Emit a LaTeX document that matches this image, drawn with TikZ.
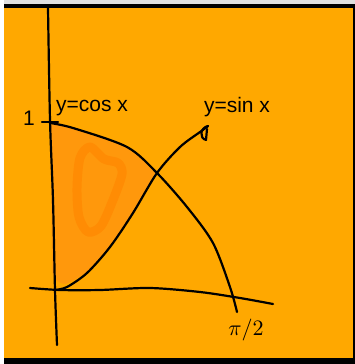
\documentclass[tikz,border=0pt]{standalone}
\usepackage{fontspec}
\setsansfont{Liberation Sans}
\definecolor{sheet}{RGB}{255,168,0}
\definecolor{regionfill}{RGB}{255,152,12}
\definecolor{blobfill}{RGB}{255,140,4}
\begin{document}
\begin{tikzpicture}[x=1pt,y=-1pt,
  pen/.style={line width=2.2pt,line cap=round,line join=round},
  lbl/.style={font=\sffamily\fontsize{21}{21}\selectfont,inner sep=0pt}]
\useasboundingbox (0,0) rectangle (355,364);
% frame and sheet
\fill[white] (0,0) rectangle (355,364);
\fill[black!12] (4,0) rectangle (355,4);
\fill[black] (4,4) rectangle (355,8);
\fill[sheet] (4,8) rectangle (353,358);
\fill[black] (353,8) rectangle (355,364);
\fill[black] (4,358) rectangle (355,364);
% points on the curves
\coordinate (top) at (50,123);
\coordinate (meet) at (157,173);
\coordinate (orig) at (55,290);
\coordinate (cosend) at (237,312);
\coordinate (sinend) at (208,126);
% shaded region
\fill[regionfill] plot[smooth] coordinates {(top) (73,128) (127,147) (meet)}
  -- plot[smooth] coordinates {(meet) (133,213) (110,247) (87,272) (66,284)}
  to[out=180,in=-90] (52,270) -- cycle;
\draw[blobfill,line width=9pt,line join=round] plot[smooth cycle] coordinates
  {(90,147) (80,158) (77,188) (79,217) (88,232) (101,226) (113,200) (122,174) (118,163) (104,159)};
% axes
\draw[pen] plot[smooth] coordinates {(48,8) (50,120) (53,200) (55,290) (57,345)};
\draw[pen] plot[smooth] coordinates {(30,288) (60,290) (100,290) (150,288) (200,292) (240,298) (273,304)};
\draw[pen] (42,122) -- (58,122);
% curves
\draw[pen] plot[smooth] coordinates {(top) (73,128) (127,147) (meet) (187,207) (213,243) (230,287) (cosend)};
\draw[pen] plot[smooth] coordinates {(orig) (67,287) (87,273) (110,247) (133,213) (meet) (180,147) (200,132) (sinend)};
\draw[pen] (sinend) .. controls (200,128) and (199,138) .. (206,140) -- (207,129);
% labels
\node[lbl] (one) at (29,118) {1};
\node[lbl] (coslbl) at (92,108) {y=cos x};
\node[lbl] (sinlbl) at (237,107) {y=sin x};
\node[inner sep=0pt,scale=2.2] (half) at (246,330) {$\pi/2$};
\end{tikzpicture}
\end{document}
